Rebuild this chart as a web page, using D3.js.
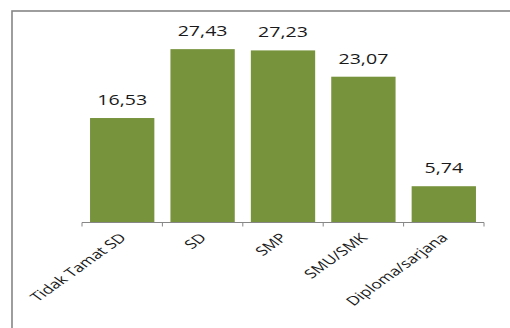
<!DOCTYPE html>
<html><head><meta charset="utf-8">
<script src="https://cdn.jsdelivr.net/npm/d3@7"></script>
<style>html,body{margin:0;padding:0;background:#fff;}svg{display:block;}</style>
</head><body>
<script>
const categories = ["Tidak Tamat SD", "SD", "SMP", "SMU/SMK", "Diploma/sarjana"];
const values = [16.53, 27.43, 27.23, 23.07, 5.74];
const yDomain = [0, 30];

const W = 510, H = 328;
const sx = 1.4; // horizontal stretch of the reference picture
const svg = d3.select("body").append("svg").attr("width", W).attr("height", H);

// chart border (runs off the right and bottom edges)
svg.append("rect").attr("x", 12).attr("y", 11).attr("width", 520).attr("height", 340)
  .attr("fill", "none").attr("stroke", "#868686").attr("stroke-width", 1.6);

const axisY = 222.5;
const x = d3.scaleBand().domain(categories).range([82, 484]).paddingInner(0.2).paddingOuter(0.1);
const y = d3.scaleLinear().domain(yDomain).range([axisY, axisY - 30 * 6.32]);

svg.selectAll("rect.bar").data(values).join("rect").attr("class", "bar")
  .attr("x", (d, i) => x(categories[i]))
  .attr("width", x.bandwidth())
  .attr("y", d => y(d))
  .attr("height", d => y(0) - y(d))
  .attr("fill", "#77933C");

const fmt = v => d3.format(".2f")(v).replace(".", ",");
svg.selectAll("text.val").data(values).join("text").attr("class", "val")
  .attr("transform", (d, i) => `translate(${x(categories[i]) + x.bandwidth() / 2},${y(d) - 13}) scale(${sx},1)`)
  .attr("text-anchor", "middle")
  .attr("font-family", "Open Sans")
  .attr("font-size", 14)
  .attr("fill", "#1a1a1a")
  .text(fmt);

// x axis
const xAxisScale = d3.scalePoint().domain(d3.range(categories.length + 1)).range([82, 484]);
const g = svg.append("g");
g.append("line").attr("x1", 82).attr("x2", 484).attr("y1", axisY).attr("y2", axisY)
  .attr("stroke", "#868686").attr("stroke-width", 1);
g.selectAll("line.tick").data(xAxisScale.domain()).join("line").attr("class", "tick")
  .attr("x1", d => xAxisScale(d)).attr("x2", d => xAxisScale(d))
  .attr("y1", axisY).attr("y2", axisY + 4)
  .attr("stroke", "#868686").attr("stroke-width", 1);

svg.selectAll("text.cat").data(categories).join("text").attr("class", "cat")
  .attr("transform", d => `translate(${x(d) + x.bandwidth() / 2 + 5},${axisY + 16}) scale(${sx},1) rotate(-45)`)
  .attr("text-anchor", "end")
  .attr("font-family", "Open Sans")
  .attr("font-size", 12.5)
  .attr("fill", "#1a1a1a")
  .text(d => d);
</script>
</body></html>
